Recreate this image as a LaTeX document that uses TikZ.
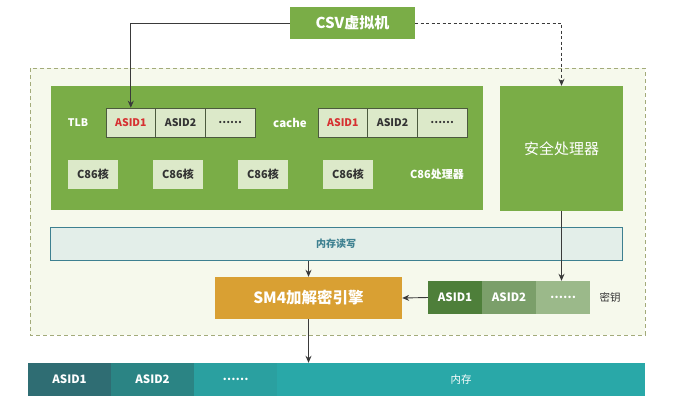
\documentclass[tikz,border=0pt]{standalone}
\usepackage{fontspec}
\setmainfont{Noto Sans CJK SC}
\usetikzlibrary{arrows.meta,positioning,calc}

\definecolor{leaf}{HTML}{7AAD47}
\definecolor{cellfill}{HTML}{DCE9C9}
\definecolor{cellline}{HTML}{4C5A3E}
\definecolor{asidred}{HTML}{D63131}
\definecolor{textdark}{HTML}{333333}
\definecolor{zonefill}{HTML}{F6F9EC}
\definecolor{zoneline}{HTML}{A3AB7A}
\definecolor{rwfill}{HTML}{E3EEE9}
\definecolor{rwline}{HTML}{3D8090}
\definecolor{engine}{HTML}{D9A033}
\definecolor{keyA}{HTML}{4E7F3A}
\definecolor{keyB}{HTML}{7B9F6A}
\definecolor{keyC}{HTML}{9BB98A}
\definecolor{memA}{HTML}{2F6D73}
\definecolor{memB}{HTML}{2B8484}
\definecolor{memC}{HTML}{2AA0A0}
\definecolor{memD}{HTML}{29A8A8}
\definecolor{linegray}{HTML}{3A3A3A}

\begin{document}
\begin{tikzpicture}[x=1pt,y=-1pt,
    cell/.style={draw=cellline, line width=0.6pt, fill=cellfill, minimum width=49.7pt,
        minimum height=29pt, inner sep=0pt, text=textdark,
        font=\fontsize{10.5}{12}\selectfont\bfseries},
    core/.style={fill=cellfill, minimum width=50pt, minimum height=29pt, inner sep=0pt,
        text=textdark, font=\fontsize{11}{13}\selectfont\bfseries},
    keycell/.style={minimum width=54pt, minimum height=33pt, inner sep=0pt, text=white,
        font=\fontsize{11.5}{13}\selectfont\bfseries},
    memcell/.style={minimum width=83pt, minimum height=33pt, inner sep=0pt, text=white,
        font=\fontsize{11.5}{13}\selectfont\bfseries},
    whitelabel/.style={text=white, font=\fontsize{10.5}{12}\selectfont\bfseries},
    link/.style={-{Stealth[length=7pt,width=6pt]}, draw=linegray, line width=0.9pt}]
    \useasboundingbox[fill=white] (0,0) rectangle (676,416);

    % Secure zone (dashed)
    \draw[zoneline, fill=zonefill, dashed, dash pattern=on 4pt off 3pt, line width=0.8pt]
        (30,68) rectangle (645,335);

    % Top: virtual machine
    \node[fill=leaf, text=white, minimum width=125pt, minimum height=32pt, inner sep=0pt,
        font=\fontsize{15}{17}\selectfont\bfseries] (csv) at (352.5,23) {CSV虚拟机};

    % C86 processor
    \node[fill=leaf, minimum width=432pt, minimum height=124pt, inner sep=0pt] (cpu) at (267,148) {};
    \node[whitelabel] (tlb) at (78,122.5) {TLB};
    \node[cell, text=asidred] (tlb1) at (130.8,122.5) {ASID1};
    \node[cell] (tlb2) at (180.5,122.5) {ASID2};
    \node[cell] (tlb3) at (230.2,122.5) {……};
    \node[whitelabel, font=\fontsize{11.5}{13}\selectfont\bfseries] (cache) at (290,122.5) {cache};
    \node[cell, text=asidred] (cache1) at (342.8,122.5) {ASID1};
    \node[cell] (cache2) at (392.5,122.5) {ASID2};
    \node[cell] (cache3) at (442.2,122.5) {……};
    \foreach \i/\x in {1/93, 2/178, 3/263, 4/348} {
        \node[core] (core\i) at (\x,174.5) {C86核};
    }
    \node[whitelabel, font=\fontsize{11}{13}\selectfont\bfseries] (cpulabel) at (437,174.5) {C86处理器};

    % Security processor
    \node[fill=leaf, text=white, minimum width=123pt, minimum height=125pt, inner sep=0pt,
        font=\fontsize{15}{17}\selectfont] (sec) at (561.5,148.5) {安全处理器};

    % Memory read/write
    \node[draw=rwline, fill=rwfill, line width=0.8pt, minimum width=572pt, minimum height=33pt,
        inner sep=0pt, text=rwline, font=\fontsize{10}{12}\selectfont\bfseries] (rw) at (336,244) {内存读写};

    % SM4 engine
    \node[fill=engine, text=white, minimum width=187pt, minimum height=42pt, inner sep=0pt,
        font=\fontsize{15.5}{18}\selectfont\bfseries] (sm4) at (308.5,298) {SM4加解密引擎};

    % Keys
    \node[keycell, fill=keyA] (key1) at (455,297.5) {ASID1};
    \node[keycell, fill=keyB] (key2) at (509,297.5) {ASID2};
    \node[keycell, fill=keyC] (key3) at (563,297.5) {……};
    \node[text=textdark, font=\fontsize{10.5}{12}\selectfont] (keylabel) at (610,297.5) {密钥};

    % Memory
    \node[memcell, fill=memA] (mem1) at (69.5,379.5) {ASID1};
    \node[memcell, fill=memB] (mem2) at (152.5,379.5) {ASID2};
    \node[memcell, fill=memC] (mem3) at (235.5,379.5) {……};
    \node[fill=memD, minimum width=368pt, minimum height=33pt, inner sep=0pt, text=white,
        font=\fontsize{10.5}{12}\selectfont] (mem) at (461,379.5) {内存};

    % Connectors
    \draw[link] (csv.west) -| (tlb1.north);
    \draw[link, dashed, dash pattern=on 3pt off 2.5pt] (csv.east) -| (sec.north);
    \draw[link] (sec.south) -- (sec.south |- key3.north);
    \draw[link] (sm4.north |- rw.south) -- (sm4.north);
    \draw[link] (key1.west) -- (sm4.east);
    \draw[link] (sm4.south) -- (sm4.south |- mem.north);
\end{tikzpicture}
\end{document}
